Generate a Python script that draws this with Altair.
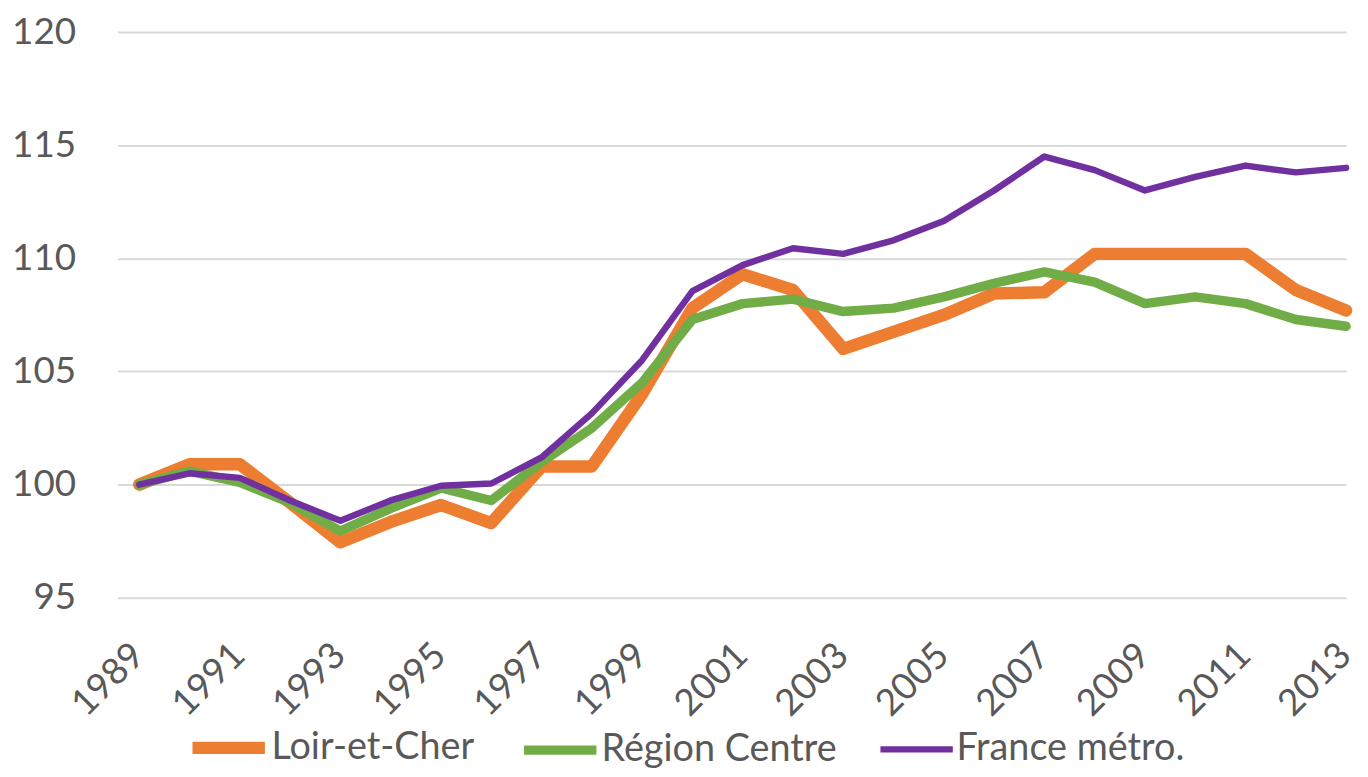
import altair as alt
import pandas as pd

years = list(range(1989, 2014))
series_names = ["Loir-et-Cher", "Région Centre", "France métro."]
loir_et_cher = [100.0, 100.9, 100.9, 99.2, 97.45, 98.35, 99.1, 98.3, 100.8, 100.8, 104.0, 107.8,
                109.3, 108.6, 106.0, 106.75, 107.5, 108.45, 108.5, 110.2, 110.2, 110.2, 110.2, 108.6, 107.7]
region_centre = [100.0, 100.6, 100.1, 99.2, 97.95, 98.95, 99.85, 99.3, 101.0, 102.5, 104.5, 107.3,
                 108.0, 108.2, 107.65, 107.8, 108.3, 108.9, 109.4, 108.95, 108.0, 108.3, 108.0, 107.3, 107.0]
france_metro = [100.0, 100.5, 100.3, 99.3, 98.4, 99.3, 99.95, 100.05, 101.2, 103.15, 105.5, 108.55,
                109.7, 110.45, 110.2, 110.8, 111.65, 113.0, 114.5, 113.9, 113.0, 113.6, 114.1, 113.8, 114.0]
colors = ["#ED7D31", "#70AD47", "#7030A0"]
widths = [12.5, 6.5, 8]
y_ticks = [95, 100, 105, 110, 115, 120]
x_ticks = list(range(1989, 2014, 2))

rows = []
for name, vals in zip(series_names, [loir_et_cher, region_centre, france_metro]):
    for yr, v in zip(years, vals):
        rows.append({"year": yr, "value": v, "series": name})
df = pd.DataFrame(rows)

FONT = "Lato"
TXT = "#595959"

chart = alt.Chart(df).mark_line(strokeCap="round", strokeJoin="round").encode(
    x=alt.X("year:Q",
            scale=alt.Scale(domain=[1988.565, 2013], nice=False, zero=False),
            axis=alt.Axis(values=x_ticks, format="d", title=None, labelAngle=-45,
                          labelAlign="right", labelBaseline="middle", labelPadding=52,
                          labelOffset=-1,
                          domain=False, ticks=False, grid=False, labelFlush=False,
                          labelOverlap=False, labelBound=False, labelFontSize=37,
                          labelFont=FONT, labelColor=TXT)),
    y=alt.Y("value:Q",
            scale=alt.Scale(domain=[95, 120], nice=False, zero=False),
            axis=alt.Axis(values=y_ticks, title=None, domain=False, ticks=False,
                          grid=True, gridColor="#D9D9D9", gridWidth=2,
                          labelPadding=42, labelFontSize=37, labelFont=FONT,
                          labelColor=TXT)),
    color=alt.Color("series:N", scale=alt.Scale(domain=series_names, range=colors),
                    legend=alt.Legend(title=None)),
    strokeWidth=alt.StrokeWidth("series:N",
                                scale=alt.Scale(domain=series_names, range=widths),
                                legend=alt.Legend(title=None)),
    order=alt.Order("year:Q"),
).properties(
    width=1236, height=569,
    autosize=alt.AutoSizeParams(type="none"),
    padding={"left": 110, "top": 22, "right": 14, "bottom": 170},
).configure_view(stroke=None).configure_legend(
    orient="none", legendX=69, legendY=677, direction="horizontal",
    symbolType="stroke", symbolSize=5300,
    labelFontSize=38, labelFont=FONT, labelColor=TXT, labelOffset=0,
    columnPadding=30, labelLimit=400
)

chart.save("out.html", embed_options={"renderer": "svg", "actions": False})
